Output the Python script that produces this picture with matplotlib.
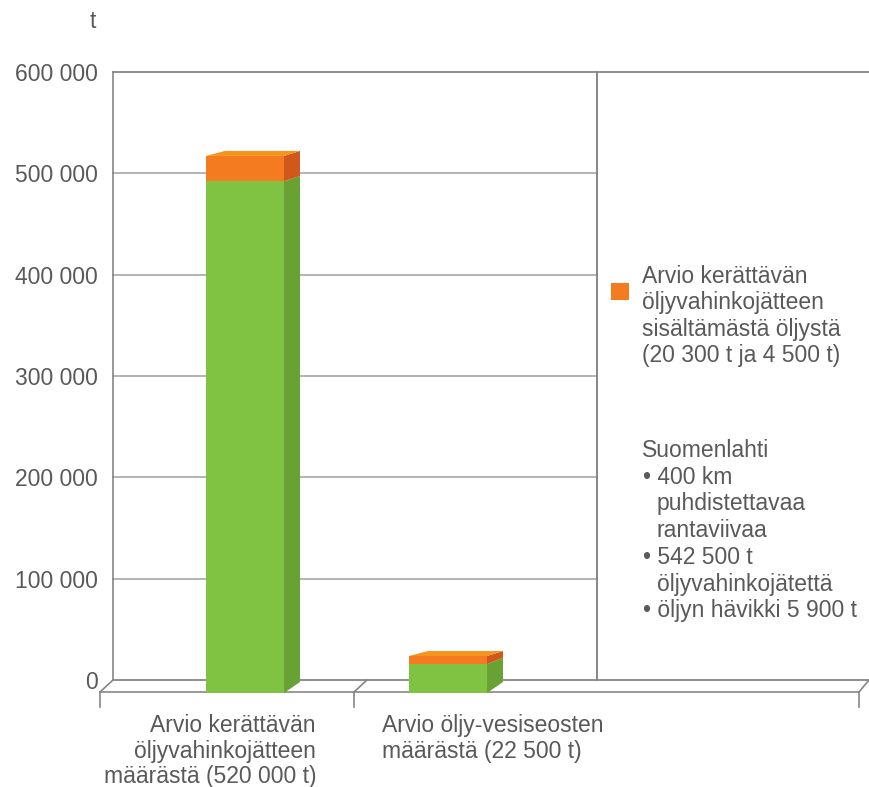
import matplotlib
matplotlib.use("Agg")
import matplotlib.pyplot as plt
from matplotlib.patches import Polygon, Rectangle
from matplotlib.transforms import Affine2D, IdentityTransform
import numpy as np

plt.rcParams['axes.grid'] = False
plt.rcParams['font.family'] = ['Liberation Sans', 'DejaVu Sans']

# data
cat_lines = [["Arvio kerättävän", "öljyvahinkojätteen", "määrästä (520 000 t)"],
             ["Arvio öljy-vesiseosten", "määrästä (22 500 t)"]]
waste = [505000, 28500]   # green part of the columns
oil = [25000, 8000]       # orange part (oil in the waste)
yticks = [0, 100000, 200000, 300000, 400000, 500000, 600000]
legend_lines = ["Arvio kerättävän", "öljyvahinkojätteen",
                "sisältämästä öljystä", "(20 300 t ja 4 500 t)"]
note_lines = ["Suomenlahti", "• 400 km", "  puhdistettavaa", "  rantaviivaa",
              "• 542 500 t", "  öljyvahinkojätettä", "• öljyn hävikki 5 900 t"]

W, H = 869, 787
TXT = '#595959'
GRID = '#b3b3b3'
EDGE = '#868686'
GREEN, GREEN_SIDE = '#80c241', '#68a234'
ORANGE, ORANGE_SIDE, ORANGE_TOP = '#f47b20', '#d0581a', '#f7941e'
FS = 16.5

fig = plt.figure(figsize=(W / 100, H / 100), dpi=100)
ax = fig.add_axes([113 / W, 1 - 680 / H, (W - 113) / W, (680 - 72) / H])
ax.set_ylim(0, 600000)
unit = 203          # pixels between categories
first = 258         # first category centre on the back wall
left = -(first - 113) / unit
ax.set_xlim(left, left + (W - 113) / unit)
ax.set_xticks([])
ax.set_yticks(yticks)
ax.set_yticklabels([f"{v:,}".replace(',', ' ') for v in yticks])
ax.tick_params(axis='y', length=0, pad=15 * 0.72, labelsize=FS, labelcolor=TXT)
ax.xaxis.grid(False)
ax.yaxis.grid(False)
for s in ax.spines.values():
    s.set_visible(False)
ax.patch.set_alpha(0)

# pixel coords measured from the top-left corner
px = Affine2D().scale(1, -1).translate(0, H)


def ypix(v):
    return H - ax.transData.transform((0, v))[1]


# back wall
for v in yticks[1:-1]:
    yp = ypix(v)
    ax.plot([113, 597], [yp, yp], transform=px, color=GRID, lw=1.4, zorder=1,
            clip_on=False)
for v in (yticks[0], yticks[-1]):
    yp = ypix(v)
    ax.plot([113, W], [yp, yp], transform=px, color=EDGE, lw=1.3, zorder=1, clip_on=False)
ax.plot([113, 113], [ypix(0), ypix(600000)], transform=px, color=EDGE, lw=1.2,
        clip_on=False, zorder=2)

# floor
floor_segs = [((100, 692), (859, 692)), ((100, 692), (113, 680)), ((354, 692), (367, 680)),
              ((859, 692), (869, 680)), ((100, 692), (100, 707)), ((354, 692), (354, 707)),
              ((859, 692), (859, 707))]
for (a, b) in floor_segs:
    ax.plot([a[0], b[0]], [a[1], b[1]], transform=px, color=EDGE, lw=1.2,
            clip_on=False, zorder=2)

# columns: front faces shifted towards the viewer
fdx, fdy = -13, -13
front = ax.transData + Affine2D().translate(fdx, fdy)
x = np.arange(len(waste))
bw = 78 / unit
ax.bar(x, waste, width=bw, color=GREEN, lw=0, transform=front, clip_on=False, zorder=3)
ax.bar(x, oil, bottom=waste, width=bw, color=ORANGE, lw=0, transform=front,
       clip_on=False, zorder=3)

ident = IdentityTransform()
ddx = 16
for i in range(len(waste)):
    total = waste[i] + oil[i]

    def corner(xd, yd):
        p = ax.transData.transform((xd, yd))
        return p[0] + fdx, p[1] + fdy

    def depth(yd):
        return 11 - 6 * yd / total

    xr, xl = x[i] + bw / 2, x[i] - bw / 2
    for lo, hi, col in [(0, waste[i], GREEN_SIDE), (waste[i], total, ORANGE_SIDE)]:
        a, b = corner(xr, lo), corner(xr, hi)
        poly = [a, b, (b[0] + ddx, b[1] + depth(hi)), (a[0] + ddx, a[1] + depth(lo))]
        ax.add_patch(Polygon(poly, closed=True, color=col, lw=0, transform=ident,
                             clip_on=False, zorder=3))
    a, b = corner(xl, total), corner(xr, total)
    d = depth(total)
    poly = [a, b, (b[0] + ddx, b[1] + d), (a[0] + ddx + 3, a[1] + d)]
    ax.add_patch(Polygon(poly, closed=True, color=ORANGE_TOP, lw=0, transform=ident,
                         clip_on=False, zorder=3))

# legend box on the right part of the wall (covers the gridlines there)
top_y, zero_y = ypix(600000), ypix(0)
fig.patches.append(Rectangle((598, top_y + 1.5), W - 598, zero_y - top_y - 3, transform=px,
                             facecolor='white', edgecolor='none', zorder=5))
fig.lines.append(plt.Line2D([597, 597], [top_y, zero_y], transform=px, color=EDGE,
                            lw=1.4, zorder=6))

# unit label
fig.text(93, 22, "t", transform=px, ha='center', va='center', fontsize=FS, color=TXT)

# category labels
for k, line in enumerate(cat_lines[0]):
    fig.text(316, 732 + 25.7 * k, line, transform=px, ha='right', va='baseline',
             fontsize=FS, color=TXT)
for k, line in enumerate(cat_lines[1]):
    fig.text(382, 732 + 25.7 * k, line, transform=px, ha='left', va='baseline',
             fontsize=FS, color=TXT)

# legend
fig.patches.append(Rectangle((611, 283), 18, 17, transform=px, color=ORANGE, lw=0, zorder=6))
for k, line in enumerate(legend_lines):
    fig.text(642, 283 + 26.3 * k, line, transform=px, ha='left', va='baseline',
             fontsize=FS, color=TXT, zorder=7)

# notes
for k, line in enumerate(note_lines):
    xs = 642
    if line.startswith("  "):
        xs, line = 657, line.strip()
    elif line.startswith("•"):
        xs = 643
    fig.text(xs, 457 + 26.7 * k, line, transform=px, ha='left', va='baseline',
             fontsize=FS, color=TXT, zorder=7)

fig.savefig('out.png', dpi=100)
